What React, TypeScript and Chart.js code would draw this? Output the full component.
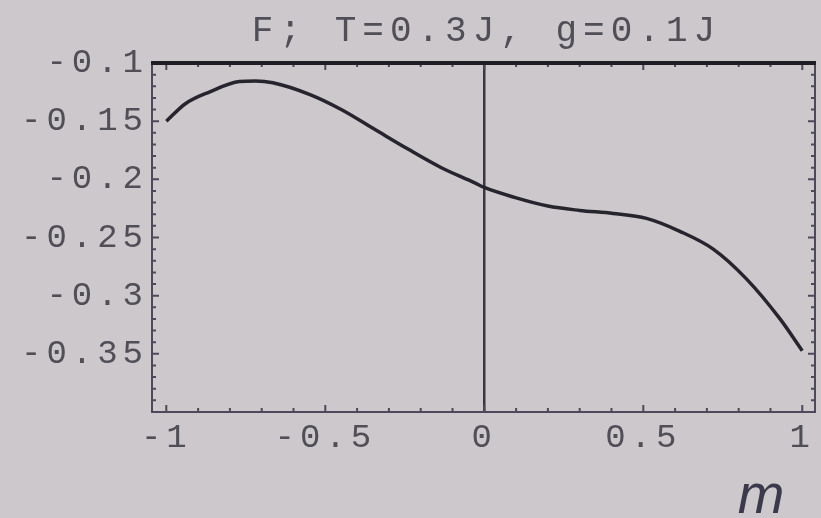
import React, { useEffect, useRef } from 'react';
import { Chart, registerables } from 'chart.js';
Chart.register(...registerables);

// ---- data ----
const mValues = [-1, -0.94, -0.865, -0.77, -0.72, -0.665, -0.55, -0.45, -0.345, -0.24, -0.135, -0.03, 0, 0.095, 0.2, 0.3, 0.405, 0.51, 0.615, 0.72, 0.825, 0.93, 1];
const fValues = [-0.150, -0.135, -0.125, -0.116, -0.1155, -0.117, -0.127, -0.140, -0.157, -0.174, -0.190, -0.203, -0.207, -0.2155, -0.223, -0.2267, -0.2293, -0.2336, -0.2447, -0.260, -0.2858, -0.320, -0.3474];
const xTickLabels = ['-1', '-0.5', '0', '0.5', '1'];
const yTickLabels = ['-0.1', '-0.15', '-0.2', '-0.25', '-0.3', '-0.35'];
const titleText = 'F; T=0.3J, g=0.1J';
const xAxisLabel = 'm';

// plot range (x is padded beyond the data like Mathematica does)
const X_MIN = -1.045, X_MAX = 1.04;
const X_TICK_FROM = -1, X_TICK_TO = 1, X_MAJOR = 0.5, X_MINOR = 0.1;
const Y_MIN = -0.4, Y_MAX = -0.1, Y_MAJOR = 0.05, Y_MINOR = 0.01;

const BG = '#cdc8cc';
const TEXT = '#504e56';
const MONO = "'Liberation Mono', 'DejaVu Sans Mono', monospace";

function findLabel(labels: string[], v: number) {
  const l = labels.find((s) => Math.abs(parseFloat(s) - v) < 1e-6);
  return l === undefined ? '' : l;
}

const framePlugin = {
  id: 'framePlugin',
  beforeDraw(chart: any) {
    const ctx = chart.ctx;
    ctx.save();
    ctx.fillStyle = BG;
    ctx.fillRect(0, 0, chart.width, chart.height);
    ctx.restore();
    try { (ctx as any).letterSpacing = '5px'; } catch (e) {}
  },
  afterDraw(chart: any) {
    const ctx = chart.ctx;
    const { left, right, top, bottom } = chart.chartArea;
    const xs = chart.scales.x;
    const ys = chart.scales.y;
    ctx.save();
    // inward ticks
    ctx.strokeStyle = '#4c4a5a';
    ctx.lineWidth = 2;
    const nx = Math.round((X_TICK_TO - X_TICK_FROM) / X_MINOR);
    for (let i = 0; i <= nx; i++) {
      const v = X_TICK_FROM + i * X_MINOR;
      const major = Math.abs(v / X_MAJOR - Math.round(v / X_MAJOR)) < 1e-6;
      const len = major ? 7 : 4;
      const px = xs.getPixelForValue(v);
      ctx.beginPath();
      ctx.moveTo(px, bottom); ctx.lineTo(px, bottom - len);
      ctx.moveTo(px, top); ctx.lineTo(px, top + len);
      ctx.stroke();
    }
    const ny = Math.round((Y_MAX - Y_MIN) / Y_MINOR);
    for (let i = 0; i <= ny; i++) {
      const v = Y_MIN + i * Y_MINOR;
      const major = Math.abs(v / Y_MAJOR - Math.round(v / Y_MAJOR)) < 1e-6;
      const len = major ? 7 : 4;
      const py = ys.getPixelForValue(v);
      ctx.beginPath();
      ctx.moveTo(left, py); ctx.lineTo(left + len, py);
      ctx.moveTo(right, py); ctx.lineTo(right - len, py);
      ctx.stroke();
    }
    // frame
    ctx.strokeStyle = '#4c4a5a';
    ctx.lineWidth = 2;
    ctx.beginPath();
    ctx.moveTo(left, top); ctx.lineTo(left, bottom); ctx.lineTo(right, bottom); ctx.lineTo(right, top);
    ctx.stroke();
    ctx.strokeStyle = '#1e1d24';
    ctx.lineWidth = 4;
    ctx.beginPath();
    ctx.moveTo(left - 1, top); ctx.lineTo(right + 1, top);
    ctx.stroke();

    // title
    try { (ctx as any).letterSpacing = '6px'; } catch (e) {}
    ctx.fillStyle = TEXT;
    ctx.font = `36px ${MONO}`;
    ctx.textAlign = 'center';
    ctx.textBaseline = 'middle';
    ctx.fillText(titleText, (left + right) / 2 + 3, 31);

    // axis label
    try { (ctx as any).letterSpacing = '0px'; } catch (e) {}
    ctx.fillStyle = '#3c3a4a';
    ctx.font = `italic 56px 'Liberation Sans', Arial, sans-serif`;
    ctx.textAlign = 'center';
    ctx.textBaseline = 'alphabetic';
    ctx.fillText(xAxisLabel, 761, 513);
    ctx.restore();
  },
};

export default function App() {
  const canvasRef = useRef<HTMLCanvasElement | null>(null);
  useEffect(() => {
    document.body.style.margin = '0';
    document.body.style.background = BG;
    const canvas = canvasRef.current;
    if (!canvas) return;
    const chart = new Chart(canvas, {
      type: 'line',
      data: {
        datasets: [
          {
            data: mValues.map((m, i) => ({ x: m, y: fValues[i] })),
            borderColor: '#26252e',
            borderWidth: 3.5,
            pointRadius: 0,
            cubicInterpolationMode: 'monotone',
            fill: false,
          },
        ],
      },
      options: {
        animation: false,
        responsive: false,
        devicePixelRatio: 1,
        layout: { padding: { left: 0, right: 6, top: 63, bottom: 0 } },
        plugins: { legend: { display: false }, title: { display: false }, tooltip: { enabled: false } },
        scales: {
          x: {
            type: 'linear',
            min: X_MIN,
            max: X_MAX,
            afterFit: (s: any) => { s.height = 106; s.paddingLeft = 0; s.paddingRight = 0; },
            afterBuildTicks: (s: any) => {
              s.ticks = xTickLabels.map((l) => ({ value: parseFloat(l) }));
            },
            ticks: {
              color: TEXT,
              font: { family: MONO, size: 34 },
              padding: 6,
              maxRotation: 0,
              autoSkip: false,
              callback: (v: any) => findLabel(xTickLabels, Number(v)),
            },
            grid: {
              display: true,
              drawOnChartArea: true,
              drawTicks: false,
              lineWidth: 2.5,
              color: (c: any) => (c.tick && Math.abs(c.tick.value) < 1e-9 ? '#383644' : 'rgba(0,0,0,0)'),
            },
            border: { display: false },
          },
          y: {
            type: 'linear',
            min: Y_MIN,
            max: Y_MAX,
            afterFit: (s: any) => { s.width = 152; s.paddingTop = 0; s.paddingBottom = 0; },
            ticks: {
              stepSize: Y_MAJOR,
              color: TEXT,
              font: { family: MONO, size: 34 },
              padding: 4,
              autoSkip: false,
              callback: (v: any) => findLabel(yTickLabels, Number(v)),
            },
            grid: { display: false, drawTicks: false },
            border: { display: false },
          },
        },
      } as any,
      plugins: [framePlugin],
    });
    return () => chart.destroy();
  }, []);
  return (
    <div style={{ position: 'absolute', left: 0, top: 0, width: 821, height: 518, background: BG }}>
      <canvas ref={canvasRef} width={821} height={518} style={{ display: 'block' }} />
    </div>
  );
}
